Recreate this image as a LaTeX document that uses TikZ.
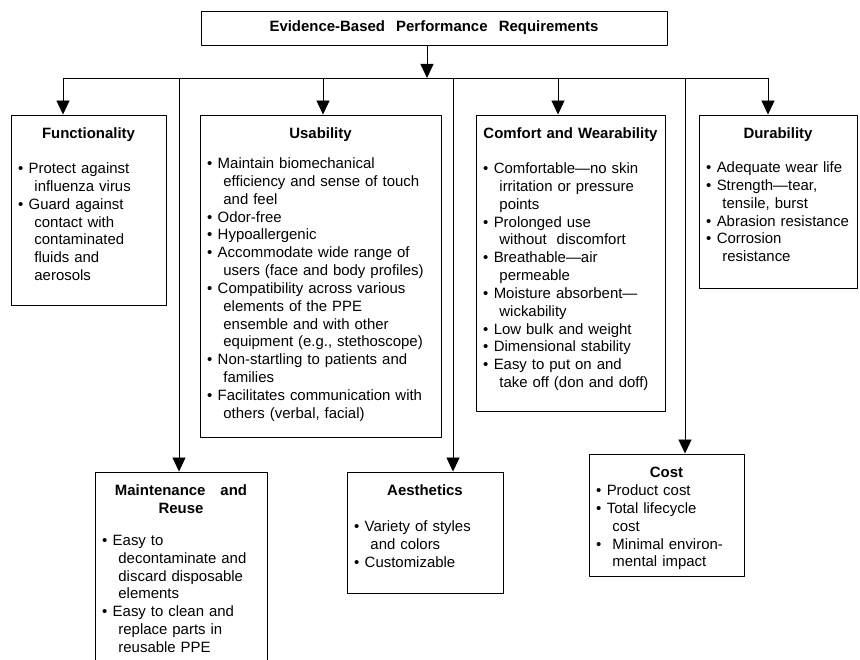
\documentclass[tikz,border=0pt]{standalone}
\usepackage{fontspec}
\setmainfont{Liberation Sans}
\usetikzlibrary{arrows.meta,%
                shapes,positioning}
\tikzstyle{blk}=[rectangle,draw=black,line width=0.9pt,inner sep=0pt]
\tikzstyle{txt}=[anchor=north,inner sep=0pt,align=left,font=\fontsize{15}{17.9}\selectfont]
\newcommand{\hd}[1]{\par\noindent\hbox to\hsize{\hss\bfseries #1\hss}\par}
\newcommand{\itm}{\par\hangindent=\dimexpr1.1em+3bp\relax\hangafter=1\noindent\hspace*{3bp}\makebox[0.72em][l]{\textbullet}}
\newcommand{\itmw}{\par\hangindent=\dimexpr1.1em+3bp\relax\hangafter=1\noindent\hspace*{3bp}\makebox[1.1em][l]{\textbullet}}

\begin{document}
\begin{tikzpicture}[>={Triangle[length=14bp,width=13bp]},line join=bevel,line width=0.9pt]
	\useasboundingbox (0,0) rectangle (860bp,660bp);
	\clip (0,0) rectangle (860bp,660bp);
	%%
	\node (top) at (434bp,632bp) [blk,minimum width=466bp,minimum height=34bp,font=\bfseries\fontsize{15}{18}\selectfont] {Evidence-Based\hspace{0.75em}Performance\hspace{0.75em}Requirements};
	  \coordinate (jt) at (427bp,582bp);
	  \coordinate (jf) at (63bp,582bp);
	  \coordinate (jm) at (179bp,582bp);
	  \coordinate (ju) at (323bp,582bp);
	  \coordinate (ja) at (453bp,582bp);
	  \coordinate (jc) at (558bp,582bp);
	  \coordinate (jo) at (685bp,582bp);
	  \coordinate (jd) at (768bp,582bp);
	%
	  \node (func) at (88.5bp,450bp) [blk,minimum width=155bp,minimum height=190bp] {};
	  \node (usab) at (320.5bp,384bp) [blk,minimum width=241bp,minimum height=322bp] {};
	  \node (comf) at (570.5bp,397bp) [blk,minimum width=189bp,minimum height=296bp] {};
	  \node (dura) at (778bp,458.5bp) [blk,minimum width=158bp,minimum height=173bp] {};
	  \node (mnt) at (181bp,84bp) [blk,minimum width=172bp,minimum height=208bp] {};
	  \node (aest) at (425bp,127.5bp) [blk,minimum width=156bp,minimum height=121bp] {};
	  \node (cost) at (666.5bp,145bp) [blk,minimum width=155bp,minimum height=122bp] {};
	%
	  \node at ([yshift=-6bp]func.north) [txt,text width=147bp] {\hd{Functionality}\vspace{17bp}
	    \itm Protect against\newline influenza virus
	    \itm Guard against\newline contact with\newline contaminated\newline fluids and\newline aerosols\par};
	  \node at ([yshift=-6bp]usab.north) [txt,text width=233bp] {\hd{Usability}\vspace{12bp}
	    \itm Maintain biomechanical\newline efficiency and sense of touch\newline and feel
	    \itm Odor-free
	    \itm Hypoallergenic
	    \itm Accommodate wide range of\newline users (face and body profiles)
	    \itm Compatibility across various\newline elements of the PPE\newline ensemble and with other\newline equipment (e.g., stethoscope)
	    \itm Non-startling to patients and\newline families
	    \itm Facilitates communication with\newline others (verbal, facial)\par};
	  \node at ([yshift=-6bp]comf.north) [txt,text width=181bp] {\hd{Comfort and Wearability}\vspace{17bp}
	    \itm Comfortable---no skin\newline irritation or pressure\newline points
	    \itm Prolonged use\newline without\ \ discomfort
	    \itm Breathable---air\newline permeable
	    \itm Moisture absorbent---\newline wickability
	    \itm Low bulk and weight
	    \itm Dimensional stability
	    \itm Easy to put on and\newline take off (don and doff)\par};
	  \node at ([yshift=-6bp]dura.north) [txt,text width=150bp] {\hd{Durability}\vspace{16bp}
	    \itm Adequate wear life
	    \itm Strength---tear,\newline tensile, burst
	    \itm Abrasion resistance
	    \itm Corrosion\newline resistance\par};
	  \node at ([yshift=-6bp]mnt.north) [txt,text width=164bp] {\hd{Maintenance\hspace{1em}and}\hd{Reuse}\vspace{14bp}
	    \itm Easy to\newline decontaminate and\newline discard disposable\newline elements
	    \itm Easy to clean and\newline replace parts in\newline reusable PPE\par};
	  \node at ([yshift=-6bp]aest.north) [txt,text width=148bp] {\hd{Aesthetics}\vspace{18bp}
	    \itm Variety of styles\newline and colors
	    \itm Customizable\par};
	  \node at ([yshift=-6bp]cost.north) [txt,text width=147bp] {\hd{Cost}
	    \itm Product cost
	    \itm Total lifecycle\newline cost
	    \itmw Minimal environ-\newline mental impact\par};
	%
	  \draw [] (jf) -- (jd);
	  \draw [->] (top.south -| jt) -- (jt);
	  \draw [->] (jf) -- (jf |- func.north);
	  \draw [->] (jm) -- (jm |- mnt.north);
	  \draw [->] (ju) -- (ju |- usab.north);
	  \draw [->] (ja) -- (ja |- aest.north);
	  \draw [->] (jc) -- (jc |- comf.north);
	  \draw [->] (jo) -- (jo |- cost.north);
	  \draw [->] (jd) -- (jd |- dura.north);
	%
\end{tikzpicture}
\end{document}
